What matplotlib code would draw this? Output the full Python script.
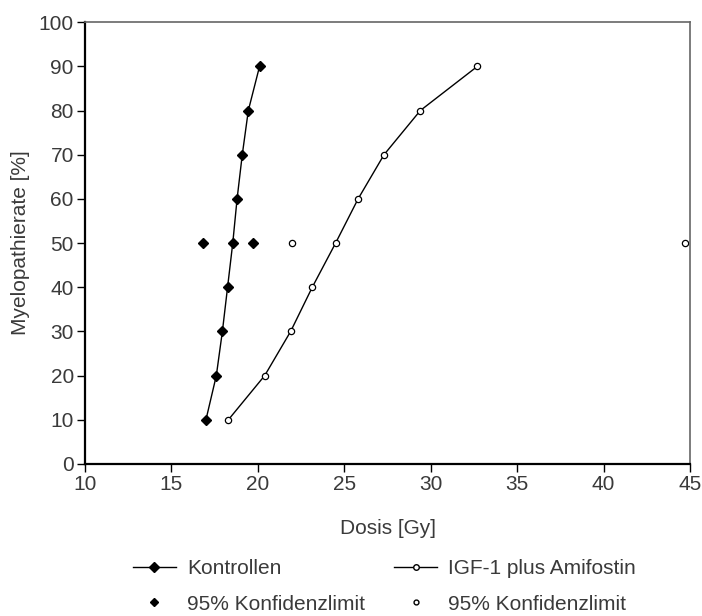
import matplotlib
matplotlib.use("Agg")
import matplotlib.pyplot as plt
from matplotlib.lines import Line2D

plt.rcParams["font.family"] = ["Liberation Sans", "DejaVu Sans"]

TEXT = "#3a3a3a"
FS = 15

# Kontrollen
ctrl_dose = [17.0, 17.6, 17.95, 18.25, 18.55, 18.8, 19.1, 19.45, 20.1]
ctrl_rate = [10, 20, 30, 40, 50, 60, 70, 80, 90]
ctrl_ci_dose = [16.8, 19.7]
ctrl_ci_rate = [50, 50]

# IGF-1 plus Amifostin
igf_dose = [18.3, 20.4, 21.9, 23.15, 24.5, 25.8, 27.3, 29.4, 32.7]
igf_rate = [10, 20, 30, 40, 50, 60, 70, 80, 90]
igf_ci_dose = [22.0, 44.7]
igf_ci_rate = [50, 50]

x_ticks = [10, 15, 20, 25, 30, 35, 40, 45]
y_ticks = list(range(0, 101, 10))

fig = plt.figure(figsize=(7.02, 6.16), dpi=100)
ax = fig.add_axes([0.121, 0.247, 0.862, 0.717])

ax.plot(ctrl_dose, ctrl_rate, color="black", lw=1.0, marker="D", ms=5,
        mfc="black", mec="black")
ax.plot(ctrl_ci_dose, ctrl_ci_rate, ls="none", marker="D", ms=5,
        mfc="black", mec="black")
ax.plot(igf_dose, igf_rate, color="black", lw=1.0, marker="o", ms=4.5,
        mfc="white", mec="black", mew=0.9)
ax.plot(igf_ci_dose, igf_ci_rate, ls="none", marker="o", ms=4.5,
        mfc="white", mec="black", mew=0.9)

ax.set_xlim(10, 45)
ax.set_ylim(0, 100)
ax.set_xticks(x_ticks)
ax.set_yticks(y_ticks)
ax.tick_params(direction="out", length=6, width=1.0, colors="black",
               labelcolor=TEXT, labelsize=FS, pad=2)
for s in ("left", "bottom"):
    ax.spines[s].set_linewidth(1.6)
    ax.spines[s].set_color("black")
for s in ("top", "right"):
    ax.spines[s].set_linewidth(1.2)
    ax.spines[s].set_color("#666666")

ax.set_xlabel("Dosis [Gy]", fontsize=FS, color=TEXT, labelpad=18)
ax.set_ylabel("Myelopathierate [%]", fontsize=FS, color=TEXT, labelpad=6)

handles = [
    Line2D([], [], color="black", lw=1.0, marker="D", ms=5, mfc="black"),
    Line2D([], [], ls="none", marker="D", ms=4.5, mfc="black", mec="black"),
    Line2D([], [], color="black", lw=1.0, marker="o", ms=4, mfc="white", mec="black"),
    Line2D([], [], ls="none", marker="o", ms=3.5, mfc="white", mec="black"),
]
labels = ["Kontrollen", "95% Konfidenzlimit", "IGF-1 plus Amifostin", "95% Konfidenzlimit"]
leg = fig.legend(handles, labels, ncol=2, loc="upper left",
                 bbox_to_anchor=(0.189, 0.092), frameon=False, fontsize=FS,
                 handlelength=2.07, handletextpad=0.53, columnspacing=1.4,
                 labelspacing=0.78, borderpad=0, borderaxespad=0)
for t in leg.get_texts():
    t.set_color(TEXT)

fig.savefig("out.png", dpi=100)
